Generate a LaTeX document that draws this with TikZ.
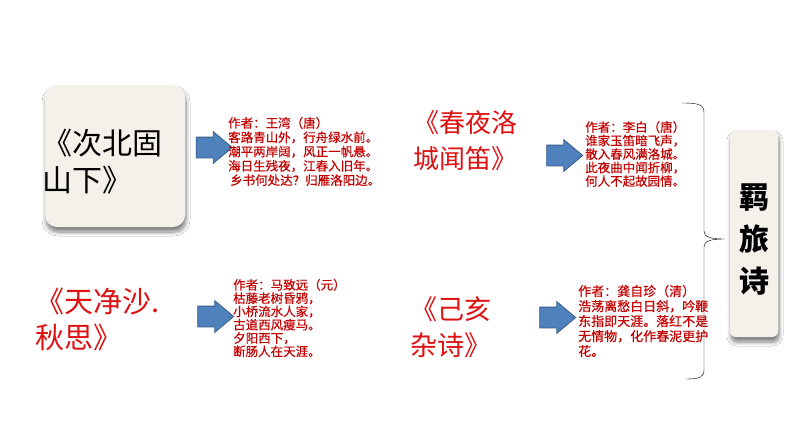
\documentclass[tikz,border=0pt]{standalone}
\usepackage{fontspec}
\newfontfamily\cjk{Noto Sans CJK SC}
\newfontfamily\cjkpoem[FakeBold=0.4]{Noto Sans CJK SC}
\usetikzlibrary{shadows.blur,shapes.arrows}
\definecolor{cardfill}{RGB}{243,241,234}
\definecolor{titlered}{RGB}{222,18,18}
\definecolor{poemred}{RGB}{196,0,0}
\definecolor{arrowblue}{RGB}{79,129,189}
\definecolor{arrowline}{RGB}{56,93,138}

\begin{document}
\begin{tikzpicture}[x=1pt, y=-1pt]
\tikzstyle{basicshadow}=[blur shadow={shadow blur steps=8, shadow xshift=1pt, shadow yshift=-5pt, shadow blur radius=4pt, shadow opacity=50}]
\tikzstyle{card}=[fill=cardfill, rounded corners=12pt, inner sep=0pt, basicshadow]
\tikzstyle{title}=[text=titlered, align=left, inner sep=0pt, anchor=west]
\tikzstyle{poem}=[text=poemred, align=left, inner sep=0pt, anchor=west]
\tikzstyle{blockarrow}=[single arrow, draw=arrowline, fill=arrowblue, line width=0.8pt, inner sep=0pt, text height=10pt, text depth=10pt, single arrow head extend=5.5pt, single arrow tip angle=80, minimum height=36pt]
\tikzstyle{edgestyle}=[thin, black]
\fill[white] (0,0) rectangle (794,447);
\useasboundingbox (0,0) rectangle (794,447);

% first row
\node[card, minimum width=140pt, minimum height=142pt] (card0) at (115,156) {};
\node[title, text=black, font=\cjk\fontsize{30}{37}\selectfont] (title0) at (42,161.5) {《次北固\\山下》};
\node[blockarrow] (arr0) at (208,147.5) {};
\node[poem, font=\cjkpoem\fontsize{12.5}{14.3}\selectfont] (poem0) at (228,151.5)
  {作者：王湾（唐）\\客路青山外，行舟绿水前。\\潮平两岸阔，风正一帆悬。\\海日生残夜，江春入旧年。\\\hspace{2pt}乡书何处达？归雁洛阳边。};

\node[title, font=\cjk\fontsize{26}{36}\selectfont] (title1) at (413,141) {《春夜洛\\城闻笛》};
\node[blockarrow] (arr1) at (558.5,155.5) {};
\node[poem, font=\cjkpoem\fontsize{12.5}{13.5}\selectfont] (poem1) at (585,154)
  {作者：李白（唐）\\谁家玉笛暗飞声，\\散入春风满洛城。\\此夜曲中闻折柳，\\何人不起故园情。};

% second row
\node[title, font=\cjk\fontsize{29}{36}\selectfont] (title2) at (35,319) {《天净沙.\\秋思》};
\node[blockarrow] (arr2) at (209.5,316.5) {};
\node[poem, font=\cjkpoem\fontsize{12.5}{13.3}\selectfont] (poem2) at (233,318)
  {作者：马致远（元）\\枯藤老树昏鸦，\\小桥流水人家，\\古道西风瘦马。\\夕阳西下，\\断肠人在天涯。};

\node[title, font=\cjk\fontsize{27}{36}\selectfont] (title3) at (410,327) {《己亥\\杂诗》};
\node[blockarrow] (arr3) at (551.5,317.5) {};
\node[poem, font=\cjkpoem\fontsize{13}{15}\selectfont] (poem3) at (578,321)
  {作者：龚自珍（清）\\浩荡离愁白日斜，吟鞭\\东指即天涯。落红不是\\无情物，化作春泥更护\\花。};

% brace and theme
\coordinate (braceTop) at (682,103);
\coordinate (braceTip) at (725,239);
\coordinate (braceBot) at (686,379);
\draw[edgestyle] (braceTop) .. controls (700,103) and (704,105) .. (704,113)
  -- (704,231) .. controls (704,237) and (710,239) .. (braceTip)
  .. controls (710,239) and (704,241) .. (704,247)
  -- (704,370) .. controls (704,377) and (700,379) .. (braceBot);

\node[card, rounded corners=6pt, minimum width=48pt, minimum height=207pt] (card1) at (754,233.5) {};
\node[align=center, inner sep=0pt, font=\cjk\bfseries\fontsize{30}{42}\selectfont] (theme) at (754,240) {羁\\旅\\诗};
\end{tikzpicture}
\end{document}
